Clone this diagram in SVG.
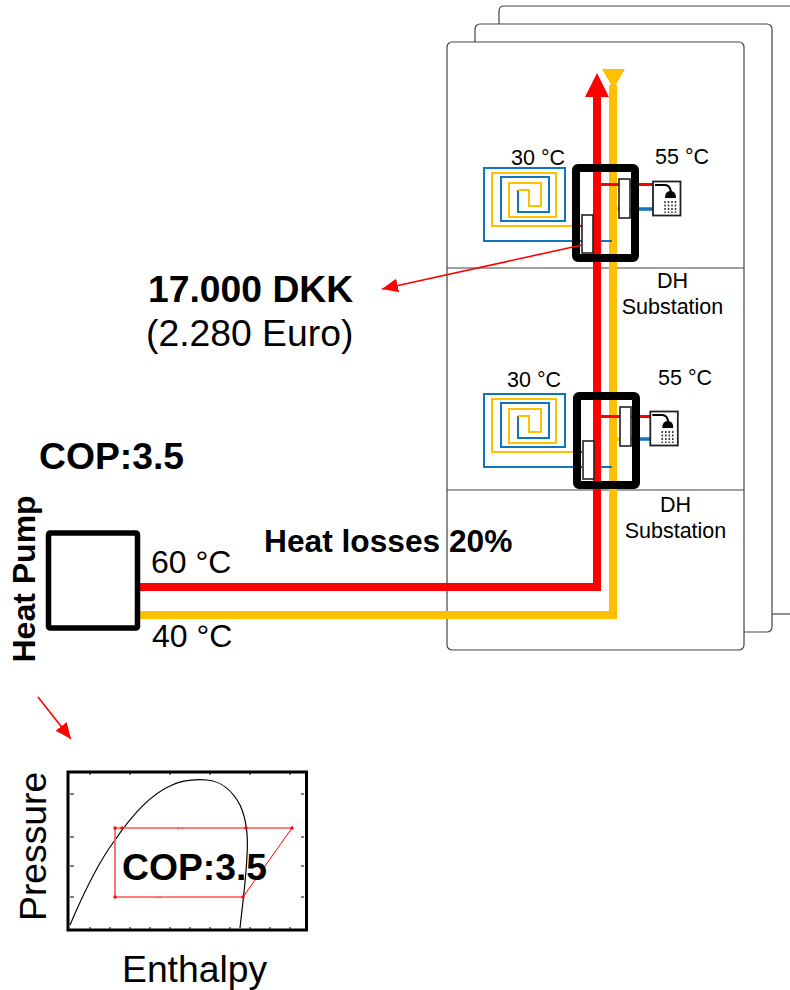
<svg xmlns="http://www.w3.org/2000/svg" width="790" height="990" viewBox="0 0 790 990">
<style>
text{font-family:"Liberation Sans",Arial,sans-serif;fill:#000}
.b{font-weight:bold}
.t21{font-size:21.5px}
.t32{font-size:32px}
.t37{font-size:37.300px}
.bld{fill:#fff;stroke:#444;stroke-width:1.200}
.floor{stroke:#444;stroke-width:1.200;fill:none}
.red{fill:none;stroke:#f00;stroke-width:8}
.yel{fill:none;stroke:#ffc000;stroke-width:8}
.sb{fill:none;stroke:#000;stroke-width:8;stroke-linejoin:round}
.hx{fill:#fff;stroke:#222;stroke-width:1.600}
.bl{fill:none;stroke:#0f75bd;stroke-width:2}
.yl{fill:none;stroke:#ffc000;stroke-width:2}
.rd2{fill:none;stroke:#f00;stroke-width:3}
.bl2{fill:none;stroke:#0f75bd;stroke-width:3.500}
.thin{fill:none;stroke:#f00;stroke-width:1.600}
.cyc{fill:none;stroke:#f55;stroke-width:1.600}
.dot{fill:#f00}
.tiny{font-size:3px;fill:#777}
</style>
<defs>
<marker id="ah" markerUnits="userSpaceOnUse" markerWidth="17" markerHeight="15" refX="16" refY="7" orient="auto"><path d="M0 0L16 7L0 14Z" fill="#f00"/></marker>
<g id="coil">
<path class="bl" d="M582 241H484V168H565V221H501V177H549V212H518V190"/>
<path class="yl" d="M582 226H492V173H556V217H509V183H541V206H529V190H518"/>
<path class="bl" d="M601 241H612"/>
<path d="M580 226H582" stroke="#f00" stroke-width="2" fill="none"/>
</g>
<g id="shower">
<rect x="653" y="181.500" width="27.500" height="34" fill="#fff" stroke="#222" stroke-width="1.800"/>
<path d="M655 185H665Q670 185 671 192" fill="none" stroke="#000" stroke-width="2.200"/>
<path d="M665 198Q665 191 670.500 191Q676 191 676 198Z" fill="#000"/>
<path d="M665 201V213M668.500 201V213M672 201V213M675.500 201V213" fill="none" stroke="#333" stroke-width="1.500" stroke-dasharray="2 1.500"/>
</g>
</defs>
<g id="building-back">
<path class="bld" d="M790 6H504Q499 6 499 11V613"/>
<path class="floor" d="M772 614H790"/>
</g>
<g id="building-mid"><rect class="bld" x="475" y="24" width="297" height="608" rx="5"/></g>
<g id="building-front"><rect class="bld" x="447" y="42" width="297" height="608" rx="5"/>
<path class="floor" d="M447 268H744M447 490H744"/></g>
<g id="connectors">
<path class="yel" d="M140 615H613V85"/>
<path d="M602 69H625L613.500 89Z" fill="#ffc000"/>
<path class="red" d="M140 587H597V95"/>
<path d="M597 73L609 97H585Z" fill="#f00"/>
<path class="thin" d="M38 697L71 739" marker-end="url(#ah)"/>
</g>
<g id="floor-upper">
<use href="#coil"/>
<path class="rd2" d="M601 184.500H619M630 184.500H653"/>
<path class="bl2" d="M630 209H653"/>
<path d="M617 209H619" stroke="#ffc000" stroke-width="3.500" fill="none"/>
<rect class="sb" x="576" y="168" width="59" height="90" rx="2"/>
<rect class="hx" x="582" y="215" width="11" height="38"/>
<rect class="hx" x="619" y="179" width="11" height="39"/>
<use href="#shower"/>
<text class="t21" x="511" y="165">30 °C</text>
<text class="t21" x="655" y="164">55 °C</text>
<text class="t21" x="672.500" y="288" text-anchor="middle">DH</text>
<text class="t21" x="672.500" y="314" text-anchor="middle">Substation</text>
</g>
<g id="floor-lower">
<use href="#coil" y="226"/>
<path class="rd2" d="M601 416.500H620M631 416.500H650"/>
<path class="bl2" d="M631 439H650"/>
<path d="M617 439H620" stroke="#ffc000" stroke-width="3.500" fill="none"/>
<rect class="sb" x="577" y="396" width="59" height="89" rx="2"/>
<rect class="hx" x="583" y="441" width="11" height="38"/>
<rect class="hx" x="620" y="407" width="11" height="39"/>
<use href="#shower" x="-2.700" y="230"/>
<text class="t21" x="507" y="387">30 °C</text>
<text class="t21" x="658" y="385">55 °C</text>
<text class="t21" x="675.500" y="512" text-anchor="middle">DH</text>
<text class="t21" x="675.500" y="538" text-anchor="middle">Substation</text>
</g>
<g id="cost-arrow"><path class="thin" d="M582 245L382 289" marker-end="url(#ah)"/></g>
<g id="cost"><text class="b t37" x="148" y="302">17.000 DKK</text>
<text class="t37" x="146" y="346">(2.280 Euro)</text></g>
<g id="heat-pump">
<rect x="48.500" y="533" width="89" height="95" rx="1.500" fill="#fff" stroke="#000" stroke-width="5.500"/>
<text class="b t37" x="39" y="469">COP:3.5</text>
<text class="b t32" transform="translate(35 662.500) rotate(-90)">Heat Pump</text>
<text class="t32" x="151" y="573">60 °C</text>
<text class="t32" x="152" y="647">40 °C</text>
<text class="b" style="font-size:31.700px" x="264" y="552">Heat losses 20%</text>
</g>
<g id="ph-chart">
<rect x="68" y="772" width="238.500" height="158" fill="#fff" stroke="#000" stroke-width="3"/>
<path d="M70 794h4M70 837h4M70 866h4M70 897h4M304 794h-3M304 837h-3M304 866h-3M304 897h-3" stroke="#000" stroke-width="1"/>
<path d="M90 929v-2M110 929v-2M130 929v-2M150 929v-2M170 929v-2M190 929v-2M210 929v-2M230 929v-2M250 929v-2M270 929v-2M290 929v-2M90 773v2M130 773v2M170 773v2M210 773v2M250 773v2M290 773v2" stroke="#000" stroke-width="1"/>
<path d="M70 925C84 892 100 860 115 840C132 815 150 795 170 786C182 780 194 779 207 780C220 781 232 790 240 805C247 820 248 840 247 855C246 880 243 900 240 928" fill="none" stroke="#000" stroke-width="1.200"/>
<path class="cyc" d="M243 897H115V828H292"/>
<path d="M292 828L243 897" fill="none" stroke="#f00" stroke-width="1"/>
<g class="dot"><circle cx="115" cy="828" r="1.700"/><circle cx="122" cy="828" r="1.700"/><circle cx="246" cy="828" r="1.700"/><circle cx="292" cy="828" r="1.700"/><circle cx="243" cy="897" r="1.700"/><circle cx="115" cy="897" r="1.700"/></g>
<text class="tiny" x="180" y="830" text-anchor="middle">60°C</text>
<text class="tiny" x="159" y="899" text-anchor="middle">5°C</text>
<text class="b t37" x="122" y="880">COP:3.5</text>
<text class="t37" transform="translate(46 921) rotate(-90)">Pressure</text>
<text class="t37" x="122" y="982">Enthalpy</text>
</g>
</svg>
